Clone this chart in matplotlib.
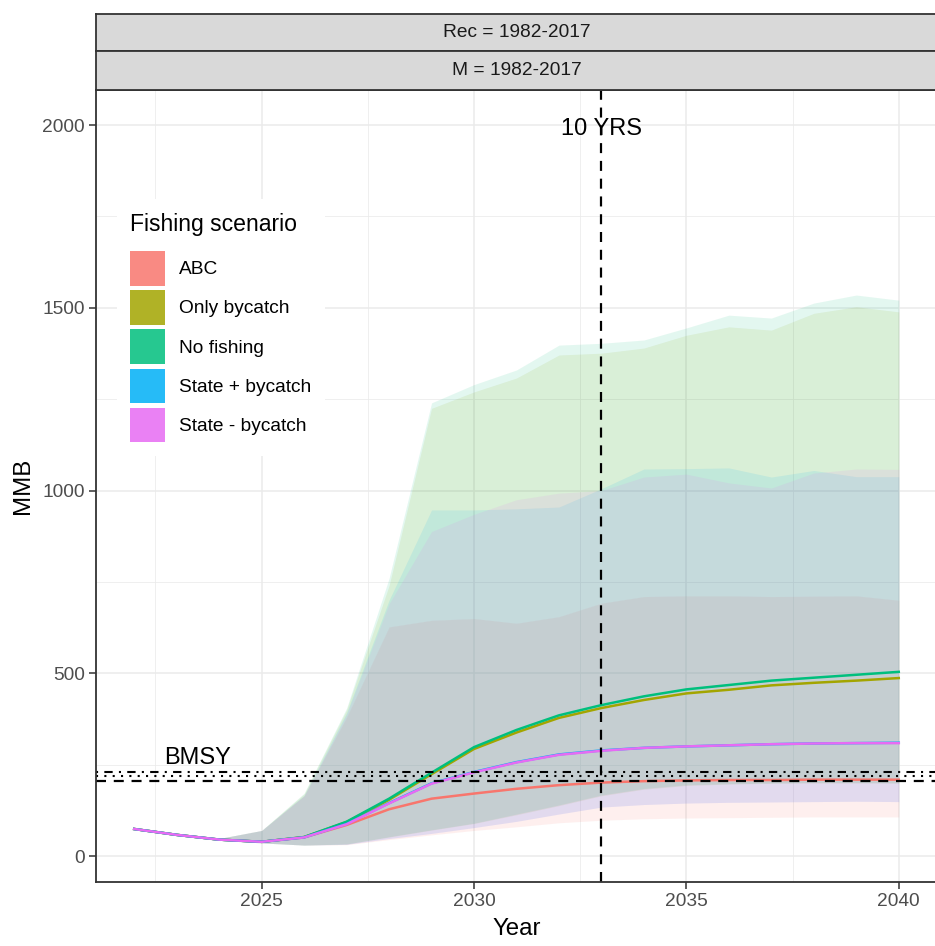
import numpy as np
import matplotlib.pyplot as plt
from matplotlib.patches import Patch
from matplotlib.ticker import MultipleLocator

plt.rcParams['font.family'] = ['Liberation Sans', 'DejaVu Sans']

# projection years
years = np.arange(2022, 2041)

scenarios = ["ABC", "Only bycatch", "No fishing", "State + bycatch", "State - bycatch"]
colors = ["#F8766D", "#A3A500", "#00BF7D", "#00B0F6", "#E76BF3"]

# median MMB per scenario
med_abc   = [74, 58, 45, 39, 51, 85, 128, 157, 171, 184, 194, 201, 205, 207, 208, 208, 209, 209, 209]
med_byc   = [74, 58, 45, 39, 52, 93, 154, 224, 293, 338, 378, 405, 427, 445, 455, 467, 474, 480, 487]
med_nof   = [74, 58, 45, 39, 52, 94, 157, 228, 298, 345, 385, 413, 437, 456, 468, 480, 488, 496, 504]
med_stp   = [74, 58, 45, 39, 51, 88, 145, 199, 230, 257, 278, 289, 296, 300, 303, 306, 308, 309, 310]
med_stm   = [74, 58, 45, 39, 51, 87, 144, 198, 229, 256, 277, 288, 296, 300, 303, 306, 308, 309, 309]

# lower bound of the projection interval
lo_abc = [74, 56, 43, 36, 30, 31, 45, 58, 70, 80, 91, 98, 102, 104, 105, 106, 107, 107, 107]
lo_byc = [74, 56, 43, 36, 30, 33, 52, 71, 89, 113, 138, 165, 183, 193, 197, 199, 200, 200, 200]
lo_nof = [74, 56, 43, 36, 30, 33, 53, 72, 90, 115, 140, 167, 185, 195, 198, 200, 201, 201, 200]
lo_stp = [74, 56, 43, 36, 30, 32, 48, 62, 78, 95, 115, 134, 141, 145, 147, 148, 149, 150, 149]
lo_stm = [74, 56, 43, 36, 30, 32, 48, 62, 78, 95, 115, 134, 141, 145, 147, 148, 149, 150, 149]

# upper bound of the projection interval
hi_abc = [74, 60, 48, 70, 165, 380, 627, 645, 650, 637, 655, 692, 710, 712, 712, 710, 711, 712, 700]
hi_byc = [74, 60, 48, 70, 170, 400, 740, 1225, 1270, 1308, 1371, 1376, 1390, 1425, 1448, 1439, 1485, 1503, 1489]
hi_nof = [74, 60, 48, 70, 172, 405, 760, 1240, 1290, 1330, 1398, 1403, 1412, 1445, 1480, 1472, 1513, 1535, 1521]
hi_stp = [74, 60, 48, 70, 166, 392, 700, 947, 947, 950, 955, 1005, 1059, 1060, 1062, 1037, 1055, 1038, 1038]
hi_stm = [74, 60, 48, 70, 165, 388, 690, 888, 935, 975, 993, 1000, 1037, 1045, 1021, 1007, 1048, 1059, 1058]

medians = [med_abc, med_byc, med_nof, med_stp, med_stm]
lowers = [lo_abc, lo_byc, lo_nof, lo_stp, lo_stm]
uppers = [hi_abc, hi_byc, hi_nof, hi_stp, hi_stm]

# reference points
bmsy_dashdot = 231
bmsy_dotted = 219
bmsy_dashed = 204
ten_yrs = 2033

W, H = 935, 946
fig = plt.figure(figsize=(W / 100, H / 100), dpi=100)
ax = fig.add_axes([96 / W, 64 / H, 841 / W, 792 / H])

for lo, hi, c in zip(lowers, uppers, colors):
    ax.fill_between(years, lo, hi, color=c, alpha=0.11, lw=0)
for med, c in zip(medians, colors):
    ax.plot(years, med, color=c, lw=1.8)

ax.axhline(bmsy_dashdot, color="black", lw=1.5, ls=(0, (1, 3, 4, 3)))
ax.axhline(bmsy_dotted, color="black", lw=1.5, ls=(0, (1, 3)))
ax.axhline(bmsy_dashed, color="black", lw=1.6, ls=(0, (4.5, 3.5)))
ax.axvline(ten_yrs, color="black", lw=1.6, ls=(0, (4.5, 3.5)))

ax.text(ten_yrs, 1990, "10 YRS", ha="center", va="center", fontsize=17)
ax.text(2023.5, 268, "BMSY", ha="center", va="center", fontsize=17)

ax.set_xlim(2021.1, 2040.9)
ax.set_ylim(-71, 2096)
ax.xaxis.set_major_locator(MultipleLocator(5))
ax.xaxis.set_minor_locator(MultipleLocator(2.5))
ax.yaxis.set_major_locator(MultipleLocator(500))
ax.yaxis.set_minor_locator(MultipleLocator(250))
ax.grid(which="major", color="#EBEBEB", lw=1.1)
ax.grid(which="minor", color="#EBEBEB", lw=0.55)
ax.set_axisbelow(True)
ax.tick_params(which="major", length=5, width=1.1, color="#333333",
               labelcolor="#4D4D4D", labelsize=13.8, pad=3)
ax.tick_params(which="minor", length=0)
for s in ax.spines.values():
    s.set_color("#333333")
    s.set_linewidth(1.3)

ax.set_xlabel("Year", fontsize=17.3, labelpad=6)
ax.set_ylabel("MMB", fontsize=17.3, labelpad=6)

handles = [Patch(facecolor=c, alpha=0.85, edgecolor="none") for c in colors]
leg = ax.legend(handles, scenarios, title="Fishing scenario",
                loc="upper left", bbox_to_anchor=(0.025, 0.862),
                borderaxespad=0, fontsize=13.8, title_fontsize=16.6,
                handlelength=1.82, handleheight=2.4, labelspacing=0.24,
                handletextpad=0.73, borderpad=0.7, alignment="left",
                frameon=True, fancybox=False, framealpha=1)
leg.get_frame().set_facecolor("white")
leg.get_frame().set_edgecolor("none")
leg._legend_box.sep = 11

# facet strips
for top, bot, label in [(14, 51, "Rec = 1982-2017"), (51, 90, "M = 1982-2017")]:
    sax = fig.add_axes([96 / W, (H - bot) / H, 841 / W, (bot - top) / H],
                       facecolor="#D9D9D9")
    sax.set_xticks([])
    sax.set_yticks([])
    for s in sax.spines.values():
        s.set_color("#333333")
        s.set_linewidth(1.3)
    sax.text(0.5, 0.5, label, ha="center", va="center", fontsize=13.8,
             color="#1A1A1A", transform=sax.transAxes)

fig.savefig("out.png", dpi=100)
